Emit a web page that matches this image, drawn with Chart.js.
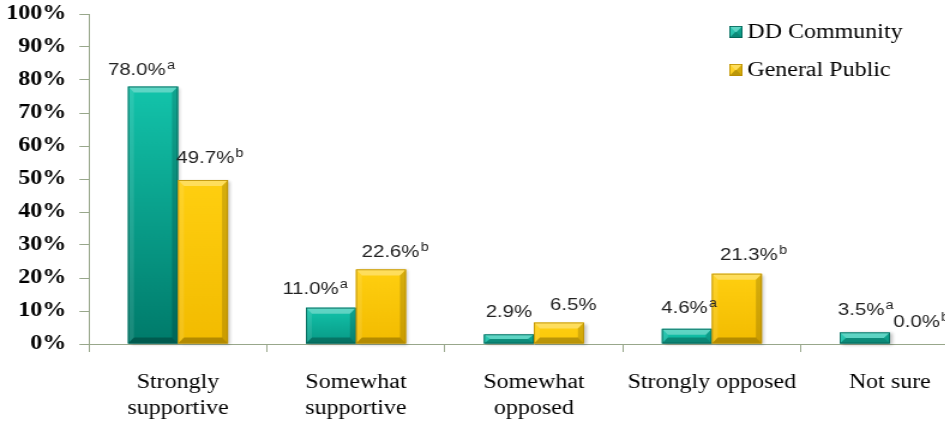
<!DOCTYPE html>
<html>
<head>
<meta charset="utf-8">
<script src="https://cdn.jsdelivr.net/npm/chart.js@4/dist/chart.umd.min.js"></script>
<style>
html, body { margin: 0; padding: 0; background: #fff; overflow: hidden; }
#wrap { width: 945px; height: 425px; overflow: hidden; }
canvas { display: block; }
</style>
</head>
<body>
<div id="wrap"><canvas id="chart" width="822" height="425" style="width:986px;height:425px"></canvas></div>
<script>
const categories = [['Strongly', 'supportive'], ['Somewhat', 'supportive'], ['Somewhat', 'opposed'], 'Strongly opposed', 'Not sure'];
const ddCommunity = [78.0, 11.0, 2.9, 4.6, 3.5];
const generalPublic = [49.7, 22.6, 6.5, 21.3, 0.0];
const ddMarks = ['a', 'a', '', 'a', 'a'];
const gpMarks = ['b', 'b', '', 'b', 'b'];
const seriesNames = ['DD Community', 'General Public'];

const serif = '"Liberation Serif", "Times New Roman", serif';
const sans = '"Liberation Sans", Arial, sans-serif';

const palettes = [
    { solid: '#06a892', top: '#13c4ab', bottom: '#007a6a', edge: '#005f53' },
    { solid: '#ffc800', top: '#ffcf10', bottom: '#f2bb00', edge: '#b98d00' }
];

function poly(ctx, pts, fill) {
    ctx.beginPath();
    ctx.moveTo(pts[0][0], pts[0][1]);
    for (let k = 1; k < pts.length; k++) ctx.lineTo(pts[k][0], pts[k][1]);
    ctx.closePath();
    ctx.fillStyle = fill;
    ctx.fill();
}

// bevelled box like the old office 3d bars
function bevelBox(ctx, left, top, right, bottom, pal) {
    const w = right - left, h = bottom - top;
    if (w <= 0 || h <= 0.5) return;
    const bx = Math.min(5, w / 2), by = Math.min(6, h / 2);
    const g = ctx.createLinearGradient(0, top, 0, Math.max(bottom, top + 60));
    g.addColorStop(0, pal.top);
    g.addColorStop(1, pal.bottom);
    ctx.fillStyle = g;
    ctx.fillRect(left, top, w, h);
    poly(ctx, [[left, top], [right, top], [right - bx, top + by], [left + bx, top + by]], 'rgba(255,255,255,0.32)');
    poly(ctx, [[left, top], [left + bx, top + by], [left + bx, bottom - by], [left, bottom]], 'rgba(255,255,255,0.10)');
    poly(ctx, [[right, top], [right, bottom], [right - bx, bottom - by], [right - bx, top + by]], 'rgba(0,0,0,0.16)');
    poly(ctx, [[left, bottom], [left + bx, bottom - by], [right - bx, bottom - by], [right, bottom]], 'rgba(0,0,0,0.26)');
    ctx.strokeStyle = pal.edge;
    ctx.lineWidth = 0.8;
    ctx.strokeRect(left + 0.4, top + 0.4, w - 0.8, h - 0.8);
}

const barLook = {
    id: 'barLook',
    afterDatasetsDraw(chart) {
        const ctx = chart.ctx;
        ctx.save();
        ctx.shadowColor = 'rgba(0,0,0,0.25)';
        ctx.shadowOffsetX = 2;
        ctx.shadowOffsetY = 1;
        ctx.shadowBlur = 3;
        chart.data.datasets.forEach((ds, di) => {
            chart.getDatasetMeta(di).data.forEach(bar => {
                const p = bar.getProps(['x', 'y', 'base', 'width'], true);
                const l = p.x - p.width / 2, r = p.x + p.width / 2;
                if (p.base - p.y < 0.5) return;
                ctx.fillStyle = '#fff';
                ctx.fillRect(l, p.y, r - l, p.base - p.y);
            });
        });
        ctx.restore();
        chart.data.datasets.forEach((ds, di) => {
            chart.getDatasetMeta(di).data.forEach(bar => {
                const p = bar.getProps(['x', 'y', 'base', 'width'], true);
                bevelBox(ctx, p.x - p.width / 2, p.y, p.x + p.width / 2, p.base, palettes[di]);
            });
        });
    }
};

const valueLabels = {
    id: 'valueLabels',
    afterDatasetsDraw(chart, args, opts) {
        const ctx = chart.ctx;
        ctx.save();
        ctx.fillStyle = '#222';
        ctx.textBaseline = 'alphabetic';
        ctx.textAlign = 'left';
        chart.data.datasets.forEach((ds, di) => {
            chart.getDatasetMeta(di).data.forEach((bar, i) => {
                const p = bar.getProps(['x', 'y'], true);
                const nudge = opts.nudge[di][i];
                const main = ds.data[i].toFixed(1) + '%';
                const mark = ds.marks[i];
                ctx.font = '17px ' + sans;
                const mw = ctx.measureText(main).width;
                const x0 = p.x - mw / 2 + nudge[0];
                const yb = p.y - 15 + nudge[1];
                ctx.fillText(main, x0, yb);
                if (mark) {
                    ctx.font = '12px ' + sans;
                    ctx.fillText(mark, x0 + mw + 1, yb - 6);
                }
            });
        });
        ctx.restore();
    }
};

const sideLegend = {
    id: 'sideLegend',
    afterDraw(chart) {
        const ctx = chart.ctx;
        ctx.save();
        seriesNames.forEach((name, k) => {
            const cy = 32 + k * 38;
            bevelBox(ctx, 608, cy - 6, 619, cy + 6, palettes[k]);
            ctx.fillStyle = '#000';
            ctx.font = '20px ' + serif;
            ctx.textBaseline = 'middle';
            ctx.fillText(name, 623, cy + 1);
        });
        ctx.restore();
    }
};

const axisColor = '#98a78b';

new Chart(document.getElementById('chart'), {
    type: 'bar',
    data: {
        labels: categories,
        datasets: [
            { label: seriesNames[0], data: ddCommunity, marks: ddMarks, backgroundColor: palettes[0].solid, borderWidth: 0 },
            { label: seriesNames[1], data: generalPublic, marks: gpMarks, backgroundColor: palettes[1].solid, borderWidth: 0 }
        ]
    },
    options: {
        responsive: false,
        devicePixelRatio: 1,
        animation: false,
        categoryPercentage: 0.562,
        barPercentage: 1,
        layout: { padding: { top: 14, right: 6, left: 0, bottom: 0 } },
        plugins: {
            legend: { display: false },
            tooltip: { enabled: false },
            valueLabels: {
                nudge: [
                    [[-13.5, 3], [-17, 1], [0, -2.5], [-2, -1], [-3, -2.5]],
                    [[2, -2], [8, 2.5], [12, 2.5], [10, 1], [1.5, -2]]
                ]
            }
        },
        scales: {
            x: {
                afterFit(scale) { scale.height = 81; },
                grid: { drawOnChartArea: false, drawTicks: true, tickLength: 8, color: axisColor, offset: true },
                border: { color: axisColor, width: 1 },
                ticks: {
                    color: '#000',
                    padding: 18,
                    maxRotation: 0,
                    autoSkip: false,
                    font: { family: serif, size: 20, lineHeight: 1.3 }
                }
            },
            y: {
                min: 0,
                max: 100,
                afterFit(scale) {
                    scale.width = 74.2;
                    scale.paddingTop = 0;
                    scale.paddingBottom = 0;
                },
                grid: { drawOnChartArea: false, drawTicks: true, tickLength: 8, color: axisColor },
                border: { color: axisColor, width: 1 },
                ticks: {
                    stepSize: 10,
                    color: '#000',
                    padding: 11,
                    font: { family: serif, size: 20, weight: 'bold', lineHeight: 1.2 },
                    callback: v => v + '%'
                }
            }
        }
    },
    plugins: [barLook, valueLabels, sideLegend]
});
</script>
</body>
</html>
